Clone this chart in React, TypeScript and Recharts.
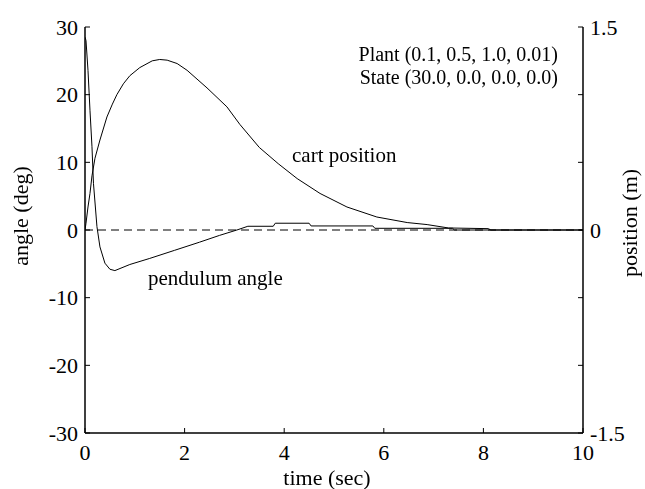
import React from 'react';
import { LineChart, Line, XAxis, YAxis, ReferenceLine } from 'recharts';

// Pendulum angle (deg) vs time (sec)
const pendulumTime = [0, 0.02, 0.06, 0.1, 0.14, 0.17, 0.24, 0.3, 0.4, 0.5, 0.6, 0.9, 1.3, 1.8, 2.3, 2.7, 3.05, 3.27, 3.78, 3.82, 4.5, 4.54, 5.78, 5.82, 7.38, 7.42, 10];
const pendulumAngle = [28.5, 28, 23.6, 17.7, 12.3, 6.9, 0.5, -2.5, -4.9, -5.8, -6.0, -5.1, -4.2, -3.0, -1.8, -0.8, 0, 0.55, 0.55, 1.0, 1.0, 0.6, 0.6, 0.25, 0.25, 0, 0];

// Cart position (m) vs time (sec)
const cartTime = [0, 0.02, 0.06, 0.1, 0.14, 0.2, 0.3, 0.44, 0.55, 0.64, 0.77, 0.9, 1.1, 1.35, 1.5, 1.65, 1.85, 2.05, 2.45, 2.85, 3.11, 3.5, 3.88, 4.26, 4.72, 5.26, 5.86, 6.47, 6.87, 7.3, 8.1, 8.15, 10];
const cartPosition = [0, 0.05, 0.17, 0.27, 0.4, 0.53, 0.665, 0.835, 0.93, 1.0, 1.08, 1.14, 1.2, 1.25, 1.26, 1.255, 1.23, 1.18, 1.05, 0.91, 0.78, 0.61, 0.49, 0.38, 0.27, 0.17, 0.096, 0.055, 0.04, 0.015, 0.01, 0, 0];

const timeTicks = [0, 2, 4, 6, 8, 10];
const angleTicks = [-30, -20, -10, 0, 10, 20, 30];
const positionTicks = [-1.5, -1, -0.5, 0, 0.5, 1, 1.5];
const positionLabelled = [-1.5, 0, 1.5];

const plantText = 'Plant (0.1, 0.5, 1.0, 0.01)';
const stateText = 'State (30.0, 0.0, 0.0, 0.0)';

const pendulumData = pendulumTime.map((t, i) => ({ t, v: pendulumAngle[i] }));
const cartData = cartTime.map((t, i) => ({ t, v: cartPosition[i] }));

const FONT = '"Liberation Serif", "DejaVu Serif", serif';
const tickStyle = { fontSize: 22, fill: '#000', fontFamily: FONT };
const tickLineStyle = { stroke: '#000', strokeWidth: 1 };

export default function App() {
  return (
    <div style={{ position: 'absolute', left: 0, top: 0, width: 645, height: 489, background: '#fff' }}>
      <LineChart width={645} height={489} data={pendulumData} margin={{ top: 27, right: 0, bottom: 0, left: 0 }}>
        <XAxis
          xAxisId="bottom"
          dataKey="t"
          type="number"
          domain={[0, 10]}
          ticks={timeTicks}
          height={56}
          tickSize={-5}
          tickMargin={16}
          axisLine={{ stroke: '#000', strokeWidth: 1.5 }}
          tickLine={tickLineStyle}
          tick={tickStyle}
          allowDataOverflow
        />
        <XAxis
          xAxisId="top"
          orientation="top"
          dataKey="t"
          type="number"
          domain={[0, 10]}
          ticks={timeTicks}
          height={0}
          tickSize={-5}
          tickFormatter={() => ''}
          axisLine={{ stroke: '#000', strokeWidth: 1.5 }}
          tickLine={tickLineStyle}
          allowDataOverflow
        />
        <YAxis
          yAxisId="left"
          type="number"
          domain={[-30, 30]}
          ticks={angleTicks}
          width={85}
          tickSize={-5}
          tickMargin={12}
          axisLine={{ stroke: '#000', strokeWidth: 1.5 }}
          tickLine={tickLineStyle}
          tick={tickStyle}
          allowDataOverflow
        />
        <YAxis
          yAxisId="right"
          orientation="right"
          type="number"
          domain={[-1.5, 1.5]}
          ticks={positionTicks}
          width={62}
          tickSize={-5}
          tickMargin={12}
          tickFormatter={(v: number) => (positionLabelled.includes(v) ? String(v) : '')}
          axisLine={{ stroke: '#000', strokeWidth: 1.5 }}
          tickLine={tickLineStyle}
          tick={tickStyle}
          allowDataOverflow
        />
        <ReferenceLine xAxisId="bottom" yAxisId="left" y={0} stroke="#000" strokeWidth={1} strokeDasharray="8 5" />
        <Line
          xAxisId="bottom"
          yAxisId="left"
          data={pendulumData}
          dataKey="v"
          type="linear"
          stroke="#000"
          strokeWidth={1}
          dot={false}
          isAnimationActive={false}
        />
        <Line
          xAxisId="bottom"
          yAxisId="right"
          data={cartData}
          dataKey="v"
          type="linear"
          stroke="#000"
          strokeWidth={1}
          dot={false}
          isAnimationActive={false}
        />
      </LineChart>
      <svg width={645} height={489} style={{ position: 'absolute', left: 0, top: 0, pointerEvents: 'none', willChange: 'transform' }}>
        <g fontFamily={FONT}>
          <text x={558} y={61} fontSize={20} textAnchor="end" fill="#000">{plantText}</text>
          <text x={558} y={84} fontSize={20} textAnchor="end" fill="#000">{stateText}</text>
          <text x={292} y={162} fontSize={21} fill="#000">cart position</text>
          <text x={148} y={285} fontSize={21} fill="#000">pendulum angle</text>
          <text x={327} y={485} fontSize={22} textAnchor="middle" fill="#000">time (sec)</text>
          <text x={28} y={216} fontSize={22} textAnchor="middle" fill="#000" transform="rotate(-90 28 216)">angle (deg)</text>
          <text x={637} y={223} fontSize={22} textAnchor="middle" fill="#000" transform="rotate(-90 637 223)">position (m)</text>
        </g>
      </svg>
    </div>
  );
}
